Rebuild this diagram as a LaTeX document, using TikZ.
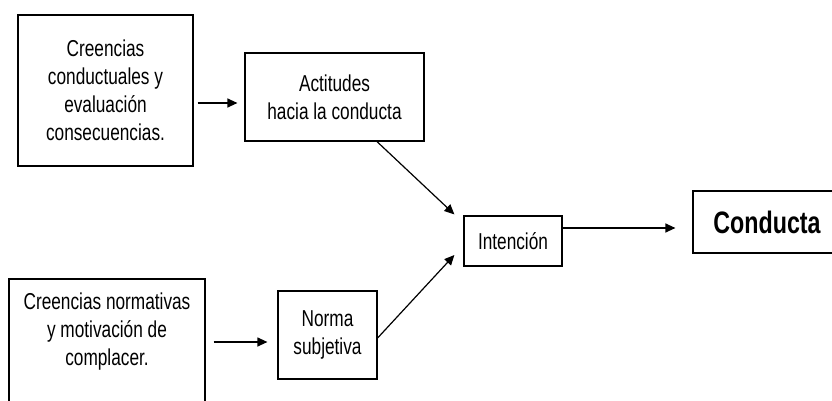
\documentclass[tikz,border=0pt]{standalone}
\usepackage{fontspec}
\usetikzlibrary{arrows.meta}
\newfontfamily\lblfont[FakeStretch=0.75]{Liberation Sans}
\begin{document}
\begin{tikzpicture}[x=1pt, y=-1pt,
  box/.style={draw, line width=1.2pt, inner sep=0pt, align=center,
    font=\lblfont\fontsize{23}{28}\selectfont},
  arr/.style={line width=1.2pt, -{Triangle[length=10pt, width=9pt]}}]
\useasboundingbox (0,0) rectangle (832,401);
\clip (0,0) rectangle (832,401);

% belief boxes and their outcomes
\node[box, minimum width=175pt, minimum height=151pt] (b1) at (105.5,90.5)
  {Creencias\\conductuales y\\evaluación\\consecuencias.};
\node[box, minimum width=179pt, minimum height=88pt] (b2) at (334.5,97)
  {Actitudes\\hacia la conducta};
\node[box, minimum width=196pt, minimum height=160pt] (b3) at (107,359) {};
\node[align=center, inner sep=0pt, font=\lblfont\fontsize{23}{28}\selectfont]
  (t3) at ([yshift=27pt]b3.center)
  {Creencias normativas\\y motivación de\\complacer.};
\node[box, minimum width=99pt, minimum height=88pt] (b4) at (327.5,335)
  {Norma\\subjetiva};
\node[box, minimum width=98pt, minimum height=50pt] (b5) at (513,241)
  {Intención};
\node[box, minimum width=148pt, minimum height=62pt,
  font=\lblfont\bfseries\fontsize{31}{36}\selectfont] (b6) at (767,222)
  {Conducta};

% connectors
\coordinate (a1) at ([yshift=-12.5pt]b1.east);
\draw[arr, shorten <=4pt, shorten >=7pt] (a1) -- (a1 -| b2.west);
\coordinate (a2) at ([yshift=-7pt]b4.west);
\draw[arr, shorten <=8pt, shorten >=10pt] (a2 -| b3.east) -- (a2);
\draw[arr] ([xshift=42.5pt]b2.south) -- ([xshift=-9pt, yshift=1pt]b5.north west);
\draw[arr] ([yshift=-3pt]b4.east) -- ([xshift=-9pt, yshift=-14pt]b5.west);
\coordinate (a5) at ([yshift=13pt]b5.east);
\draw[arr, shorten >=17pt] (a5) -- (a5 -| b6.west);
\end{tikzpicture}
\end{document}
